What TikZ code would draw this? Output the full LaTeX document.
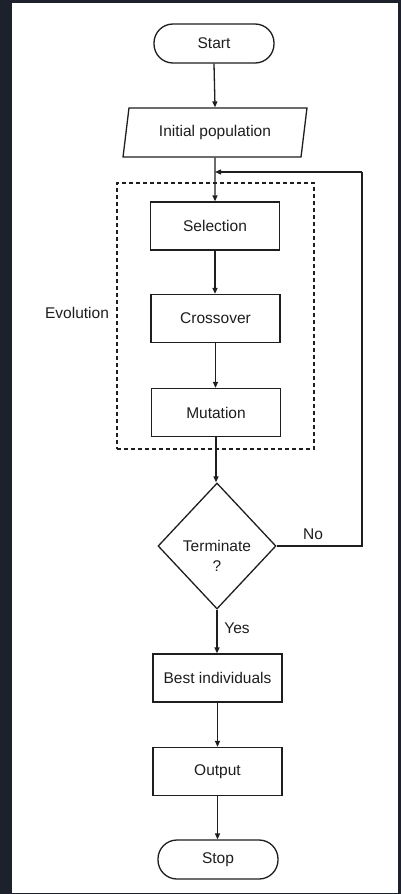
\documentclass[tikz,border=0pt]{standalone}
\usepackage{fontspec}
\setmainfont{Liberation Sans}
\usetikzlibrary{shapes.geometric,arrows.meta}
\definecolor{frame}{HTML}{1C212B}
\definecolor{ink}{HTML}{1E1E1E}
\tikzset{
  every node/.style={font=\fontsize{15.5}{18}\selectfont, text=ink},
  box/.style={draw=ink, line width=1.3pt, rectangle, minimum width=129pt, minimum height=48pt, inner sep=0pt},
  term/.style={draw=ink, line width=1.3pt, rectangle, rounded corners=19pt, minimum width=120pt, minimum height=39pt, inner sep=0pt},
  io/.style={draw=ink, line width=1.3pt, trapezium, trapezium left angle=75, trapezium right angle=105, trapezium stretches=true, minimum width=184pt, minimum height=49pt, inner sep=0pt},
  decide/.style={draw=ink, line width=1.3pt, diamond, minimum width=118pt, minimum height=126pt, inner sep=0pt},
  conn/.style={draw=ink, line width=1.3pt, -{Triangle[length=6pt,width=5pt]}},
  plain/.style={draw=ink, line width=1.3pt},
  group/.style={draw=ink, line width=1.3pt, dash pattern=on 4pt off 3pt, minimum width=197pt, minimum height=266pt, inner sep=0pt}
}
\begin{document}
\begin{tikzpicture}[x=1pt,y=-1pt]
\fill[frame] (0,0) rectangle (401,894);
\fill[white] (12,3) rectangle (398,893);
\useasboundingbox (0,0) rectangle (401,894);

\node[term] (start) at (214,43.5) {Start};
\node[io] (init) at (215,132.5) {Initial population};
\node[group] (evo) at (215.5,316) {};
\node (evolabel) at (77,313) {Evolution};
\node[box] (sel) at (215,226) {Selection};
\node[box] (cross) at (215.5,318.5) {Crossover};
\node[box] (mut) at (216,412.5) {Mutation};
\node[decide] (term) at (217,546) {};
\node[align=center, inner sep=0pt] (termtext) at (217,556) {Terminate\\[2pt]?};
\node (no) at (313,534) {No};
\node (yes) at (237,628) {Yes};
\node[box] (best) at (217.5,678) {Best individuals};
\node[box] (out) at (217.5,771.5) {Output};
\node[term] (stop) at (218,859.5) {Stop};

\coordinate (join) at (215,172);
\coordinate (loopbot) at (362,546);
\coordinate (looptop) at (362,172);

\draw[conn] (start.south) -- (init.south |- init.north);
\draw[conn] (init.south) -- (sel.north);
\draw[conn] (sel.south) -- (cross.north -| sel.south);
\draw[conn] (cross.south) -- (mut.north -| cross.south);
\draw[conn] (mut.south) -- (term.north -| mut.south);
\draw[conn] (term.south) -- (best.north -| term.south);
\draw[conn] (best.south) -- (out.north);
\draw[conn] (out.south) -- (stop.north -| out.south);
\draw[plain] (term.east) -- (loopbot) -- (looptop);
\draw[conn] (looptop) -- (join);
\end{tikzpicture}
\end{document}
